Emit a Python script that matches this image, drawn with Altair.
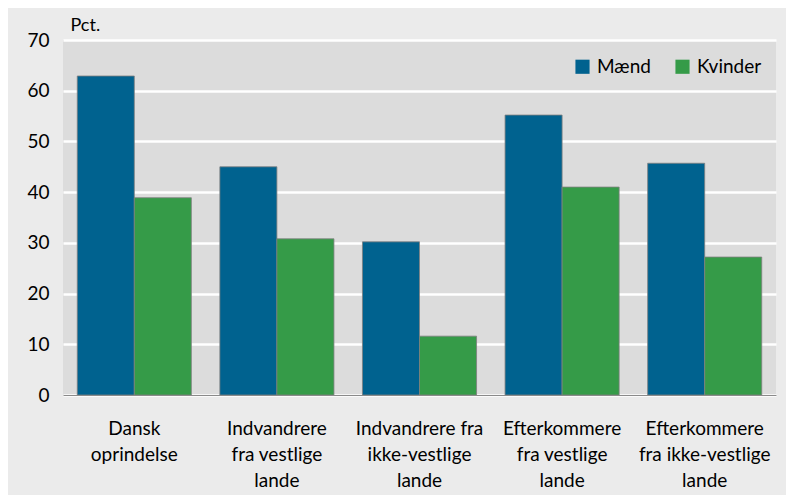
import altair as alt
import pandas as pd

categories = ["Dansk|oprindelse", "Indvandrere|fra vestlige|lande", "Indvandrere fra|ikke-vestlige|lande",
              "Efterkommere|fra vestlige|lande", "Efterkommere|fra ikke-vestlige|lande"]
maend = [62.9, 45.0, 30.2, 55.2, 45.7]
kvinder = [38.9, 30.8, 11.6, 41.0, 27.2]
series = ["Mænd", "Kvinder"]
colors = ["#00628f", "#359b48"]
y_ticks = [0, 10, 20, 30, 40, 50, 60, 70]

rows = []
for c, m, k in zip(categories, maend, kvinder):
    rows.append({"kategori": c, "køn": "Mænd", "pct": m})
    rows.append({"kategori": c, "køn": "Kvinder", "pct": k})
df = pd.DataFrame(rows)

FONT = "Lato"

chart = alt.Chart(df).mark_bar(stroke="#7f7f7f", strokeWidth=0.8).encode(
    x=alt.X("kategori:N", sort=categories, title=None,
            scale=alt.Scale(paddingInner=0.2, paddingOuter=0.1),
            axis=alt.Axis(labelExpr="split(datum.label, '|')", labelAngle=0, ticks=False,
                          domain=True, domainColor="#8a8a8a", domainWidth=1, grid=False,
                          labelFont=FONT, labelFontSize=19, labelColor="#000000",
                          labelPadding=24, labelLineHeight=26, labelBaseline="top", zindex=1)),
    xOffset=alt.XOffset("køn:N", sort=series),
    y=alt.Y("pct:Q", scale=alt.Scale(domain=[0, 70], nice=False),
            axis=alt.Axis(values=y_ticks, ticks=False, domain=False, grid=True,
                          gridColor="#ffffff", gridWidth=2.5, labelFont=FONT, labelFontSize=19,
                          labelColor="#000000", labelPadding=14,
                          title="Pct.", titleAngle=0, titleAlign="left", titleX=7, titleY=-10,
                          titleBaseline="alphabetic", titleFont=FONT, titleFontSize=18,
                          titleFontWeight="normal", titleColor="#000000")),
    color=alt.Color("køn:N", sort=series, scale=alt.Scale(domain=series, range=colors),
                    legend=alt.Legend(title=None, orient="none", legendX=510, legendY=17,
                                      direction="horizontal", symbolType="square", symbolSize=200,
                                      symbolStrokeWidth=0, labelFont=FONT, labelFontSize=19,
                                      labelColor="#000000", columnPadding=22, labelOffset=5)),
).properties(
    width=713, height=355,
    background="#ebebeb",
    padding={"left": 55, "top": 32, "right": 10, "bottom": 100},
    autosize=alt.AutoSizeParams(type="none"),
).configure_view(fill="#dcdcdc", stroke=None)

chart.save("out.html", embed_options={"renderer": "svg", "actions": False})
